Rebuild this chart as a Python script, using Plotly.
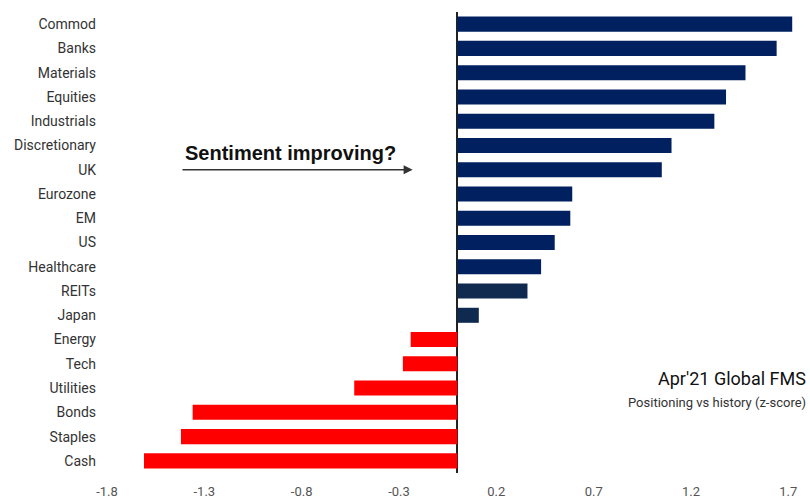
import plotly.graph_objects as go

categories = ["Commod", "Banks", "Materials", "Equities", "Industrials", "Discretionary",
              "UK", "Eurozone", "EM", "US", "Healthcare", "REITs", "Japan",
              "Energy", "Tech", "Utilities", "Bonds", "Staples", "Cash"]
values = [1.72, 1.64, 1.48, 1.38, 1.32, 1.10, 1.05, 0.59, 0.58, 0.50, 0.43, 0.36, 0.11,
          -0.24, -0.28, -0.53, -1.36, -1.42, -1.61]
tick_vals = [-1.8, -1.3, -0.8, -0.3, 0.2, 0.7, 1.2, 1.7]
tick_text = ["-1.8", "-1.3", "-0.8", "-0.3", "0.2", "0.7", "1.2", "1.7"]

NAVY = "#002060"
DARK = "#10294f"
RED = "#ff0000"
colors = []
for c, v in zip(categories, values):
    if v < 0:
        colors.append(RED)
    elif c in ("REITs", "Japan"):
        colors.append(DARK)
    else:
        colors.append(NAVY)

FONT = "Roboto, sans-serif"

fig = go.Figure(go.Bar(
    x=values, y=categories, orientation="h",
    marker=dict(color=colors, line=dict(width=0)),
    width=0.62,
))

fig.update_layout(
    width=810, height=501,
    margin=dict(l=107, r=10, t=12, b=28, autoexpand=False),
    paper_bgcolor="white", plot_bgcolor="white",
    showlegend=False,
    font=dict(family=FONT, size=14, color="#333333"),
    xaxis=dict(range=[-1.8, 1.76], tickvals=tick_vals, ticktext=tick_text,
               showgrid=False, zeroline=True, zerolinecolor="#222222", zerolinewidth=1.5,
               showline=False, ticks="", tickfont=dict(size=13, color="#555555"),
               ticklabelstandoff=9, automargin=False),
    yaxis=dict(categoryorder="array", categoryarray=categories[::-1],
               range=[-0.5, 18.5], showgrid=False, zeroline=False, showline=False,
               ticks="", tickfont=dict(size=14, color="#333333"), ticklabelstandoff=10,
               automargin=False),
    annotations=[
        dict(text="<b>Sentiment improving?</b>", x=-0.855, y="Discretionary", xref="x", yref="y",
             showarrow=False, yshift=-8,
             font=dict(family="Liberation Sans, Arial, sans-serif", size=20, color="#111111")),
        dict(text="Apr'21 Global FMS", x=1, y=0.204, xref="paper", yref="paper",
             xanchor="right", yanchor="middle", showarrow=False, xshift=8,
             font=dict(family=FONT, size=18, color="#111111")),
        dict(text="Positioning vs history (z-score)", x=1, y=0.152, xref="paper", yref="paper",
             xanchor="right", yanchor="middle", showarrow=False, xshift=8,
             font=dict(family=FONT, size=13, color="#333333")),
    ],
)

fig.add_annotation(x=-0.23, y="UK", ax=-1.42, ay="UK", xref="x", yref="y", axref="x", ayref="y",
                   showarrow=True, arrowhead=2, arrowsize=1.2, arrowwidth=1.5, arrowcolor="#333333",
                   text="")

fig.write_html("out.html")
